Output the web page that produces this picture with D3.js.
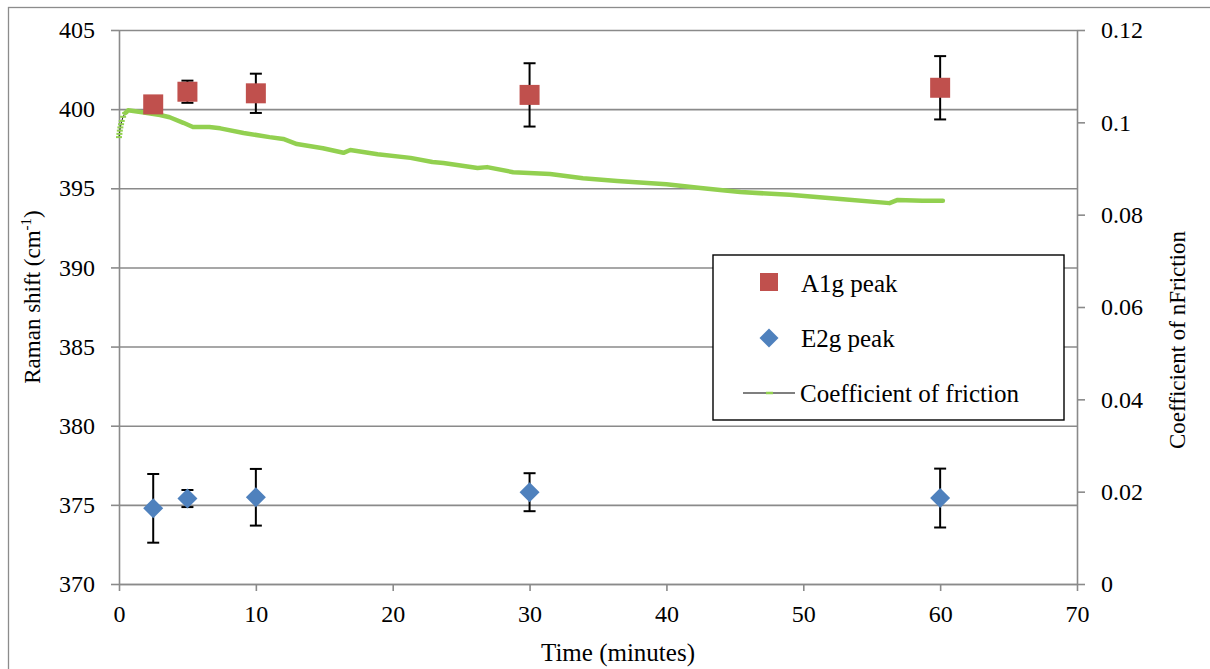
<!DOCTYPE html>
<html>
<head>
<meta charset="utf-8">
<script src="https://cdn.jsdelivr.net/npm/d3@7"></script>
<style>
  body { margin: 0; background: #fff; }
  svg, svg text { font-family: 'Liberation Serif', 'Times New Roman', Times, 'DejaVu Serif', serif !important; fill: #000; }
</style>
</head>
<body>
<svg id="chart" width="1210" height="669"></svg>
<script>
// sample times (minutes) for the Raman measurements
var times = [2.5, 5, 10, 30, 60]
var a1g_peak = [400.3, 401.1, 401.0, 400.9, 401.35]
var a1g_err = [0.3, 0.7, 1.24, 2.0, 2.0]
var e2g_peak = [374.78, 375.4, 375.48, 375.8, 375.43]
var e2g_err = [2.17, 0.54, 1.79, 1.2, 1.86]

// friction trace
var friction_time = [0, 0.03, 0.06, 0.1, 0.15, 0.2, 0.3, 0.45, 0.66, 1.7, 3.0, 3.7, 4.7, 5.4, 6.6, 7.4, 9.1, 11.0, 12.0, 13.0, 14.9, 16.4, 16.9, 18.9, 21.3, 22.9, 23.7, 26.2, 26.9, 28.8, 31.5, 33.9, 36.4, 40.0, 42.5, 44.1, 45.4, 49.0, 52.7, 56.3, 56.9, 58.7, 60.2]
var friction_coef = [0.0968, 0.0975, 0.0982, 0.0989, 0.0996, 0.1003, 0.1012, 0.1020, 0.1026, 0.1022, 0.1016, 0.1011, 0.0999, 0.0990, 0.0990, 0.0987, 0.0977, 0.0968, 0.0964, 0.0953, 0.0944, 0.0934, 0.0940, 0.0931, 0.0923, 0.0914, 0.0912, 0.0901, 0.0903, 0.0892, 0.0888, 0.0879, 0.0873, 0.0866, 0.0858, 0.0853, 0.0849, 0.0843, 0.0834, 0.0825, 0.0832, 0.0830, 0.0830]
var n_start_markers = 8 // the first points show up as separate dash markers

var x_ticks = [0, 10, 20, 30, 40, 50, 60, 70]
var left_ticks = [370, 375, 380, 385, 390, 395, 400, 405]
var right_ticks = [0, 0.02, 0.04, 0.06, 0.08, 0.1, 0.12]

var legend_labels = ['A1g peak', 'E2g peak', 'Coefficient of friction']

var serif = "'Liberation Serif', 'Times New Roman', Times, 'DejaVu Serif', serif"
var grid_color = '#8a8a8a'
var red = '#c0504d', blue = '#4f81bd', green = '#92d050'

var plot = {left: 119, right: 1077, top: 30, bottom: 584}
var svg = d3.select('#chart').attr('font-family', serif)

// outer frame
svg.append('rect')
    .attr('x', 8.5).attr('y', 7.5)
    .attr('width', 1210).attr('height', 670)
    .attr('fill', 'none').attr('stroke', '#8c8c8c').attr('stroke-width', 1.3)

var x = d3.scaleLinear().domain([0, 70]).range([plot.left, plot.right])
var y_left = d3.scaleLinear().domain([370, 405]).range([plot.bottom, plot.top])
var y_right = d3.scaleLinear().domain([0, 0.12]).range([plot.bottom, plot.top])

function style_axis(g) {
    g.attr('font-family', serif)
    g.select('.domain').attr('stroke', grid_color).attr('stroke-width', 1.6)
    g.selectAll('.tick line').attr('stroke', grid_color).attr('stroke-width', 1.6)
    g.selectAll('.tick text').attr('font-size', 24).attr('fill', '#000').attr('font-family', serif)
}

// horizontal gridlines
svg.append('g')
    .attr('transform', 'translate(' + plot.left + ',0)')
    .call(d3.axisLeft(y_left).tickValues(left_ticks).tickSize(-(plot.right - plot.left)).tickFormat(''))
    .call(function(g) {
        g.select('.domain').remove()
        g.selectAll('.tick line').attr('stroke', grid_color).attr('stroke-width', 1.6)
    })

svg.append('g')
    .attr('transform', 'translate(' + plot.left + ',0)')
    .call(d3.axisLeft(y_left).tickValues(left_ticks).tickSizeInner(8).tickSizeOuter(0).tickPadding(16).tickFormat(d3.format('d')))
    .call(style_axis)

svg.append('g')
    .attr('transform', 'translate(' + plot.right + ',0)')
    .call(d3.axisRight(y_right).tickValues(right_ticks).tickSizeInner(8).tickSizeOuter(0).tickPadding(16)
        .tickFormat(function(d) { return d3.format('~g')(+d.toFixed(2)) }))
    .call(style_axis)

svg.append('g')
    .attr('transform', 'translate(0,' + plot.bottom + ')')
    .call(d3.axisBottom(x).tickValues(x_ticks).tickSizeInner(7).tickSizeOuter(0).tickPadding(14))
    .call(style_axis)

// axis titles
svg.append('text')
    .attr('transform', 'translate(40,297) rotate(-90)')
    .attr('text-anchor', 'middle').attr('font-size', 23)
    .text('Raman shift (cm')
    .call(function(t) {
        t.append('tspan').attr('dy', -9).attr('font-size', 15).text('-1')
        t.append('tspan').attr('dy', 9).text(')')
    })

svg.append('text')
    .attr('transform', 'translate(1185,340) rotate(-90)')
    .attr('text-anchor', 'middle').attr('font-size', 23)
    .text('Coefficient of nFriction')

svg.append('text')
    .attr('x', 618).attr('y', 661)
    .attr('text-anchor', 'middle').attr('font-size', 25)
    .text('Time (minutes)')

// friction curve: thin black connector, green markers on top
var friction = friction_time.map(function(t, i) { return [t, friction_coef[i]] })
var line = d3.line().x(function(d) { return x(d[0]) }).y(function(d) { return y_right(d[1]) })

svg.append('path').datum(friction)
    .attr('d', line).attr('fill', 'none').attr('stroke', '#222').attr('stroke-width', 1)
svg.append('path').datum(friction.slice(n_start_markers - 1))
    .attr('d', line).attr('fill', 'none').attr('stroke', green)
    .attr('stroke-width', 4.5).attr('stroke-linejoin', 'round').attr('stroke-linecap', 'round')
svg.selectAll('.fric_marker')
    .data(friction.slice(0, n_start_markers))
    .enter().append('line')
        .attr('class', 'fric_marker')
        .attr('x1', function(d) { return x(d[0]) - 3 })
        .attr('x2', function(d) { return x(d[0]) + 3 })
        .attr('y1', function(d) { return y_right(d[1]) })
        .attr('y2', function(d) { return y_right(d[1]) })
        .attr('stroke', green).attr('stroke-width', 2)

// error bars
function error_bars(cls, peaks, errs) {
    var g = svg.append('g').attr('class', cls)
    var rows = times.map(function(t, i) { return {t: t, v: peaks[i], e: errs[i]} })
    g.selectAll('line.stem').data(rows).enter().append('line')
        .attr('class', 'stem')
        .attr('x1', function(d) { return x(d.t) }).attr('x2', function(d) { return x(d.t) })
        .attr('y1', function(d) { return y_left(d.v + d.e) }).attr('y2', function(d) { return y_left(d.v - d.e) })
        .attr('stroke', '#000').attr('stroke-width', 2)
    ;[1, -1].forEach(function(sign) {
        g.selectAll('line.cap' + sign).data(rows).enter().append('line')
            .attr('x1', function(d) { return x(d.t) - 6 }).attr('x2', function(d) { return x(d.t) + 6 })
            .attr('y1', function(d) { return y_left(d.v + sign * d.e) })
            .attr('y2', function(d) { return y_left(d.v + sign * d.e) })
            .attr('stroke', '#000').attr('stroke-width', 2)
    })
}
error_bars('a1g_err', a1g_peak, a1g_err)
error_bars('e2g_err', e2g_peak, e2g_err)

var square = d3.symbol().type(d3.symbolSquare).size(400)
var diamond = d3.symbol().type(d3.symbolSquare).size(200)

svg.selectAll('.a1g').data(times).enter().append('path')
    .attr('class', 'a1g')
    .attr('d', square)
    .attr('transform', function(d, i) { return 'translate(' + x(d) + ',' + y_left(a1g_peak[i]) + ')' })
    .attr('fill', red)

svg.selectAll('.e2g').data(times).enter().append('path')
    .attr('class', 'e2g')
    .attr('d', diamond)
    .attr('transform', function(d, i) { return 'translate(' + x(d) + ',' + y_left(e2g_peak[i]) + ') rotate(45)' })
    .attr('fill', blue)

// legend
var legend = svg.append('g').attr('transform', 'translate(713,255)')
legend.append('rect')
    .attr('width', 351).attr('height', 165)
    .attr('fill', '#fff').attr('stroke', '#000').attr('stroke-width', 1.4)
legend.append('path').attr('d', d3.symbol().type(d3.symbolSquare).size(324))
    .attr('transform', 'translate(56,27)').attr('fill', red)
legend.append('path').attr('d', d3.symbol().type(d3.symbolSquare).size(180))
    .attr('transform', 'translate(56,83) rotate(45)').attr('fill', blue)
legend.append('line').attr('x1', 30).attr('x2', 82).attr('y1', 138).attr('y2', 138)
    .attr('stroke', '#000').attr('stroke-width', 1.2)
legend.append('line').attr('x1', 53).attr('x2', 60).attr('y1', 138).attr('y2', 138)
    .attr('stroke', green).attr('stroke-width', 2.5)
legend.selectAll('.leg_text').data(legend_labels).enter().append('text')
    .attr('class', 'leg_text')
    .attr('x', function(d, i) { return i == 2 ? 87 : 88 })
    .attr('y', function(d, i) { return [37, 92, 147][i] })
    .attr('font-size', 25)
    .text(function(d) { return d })
</script>
</body>
</html>
